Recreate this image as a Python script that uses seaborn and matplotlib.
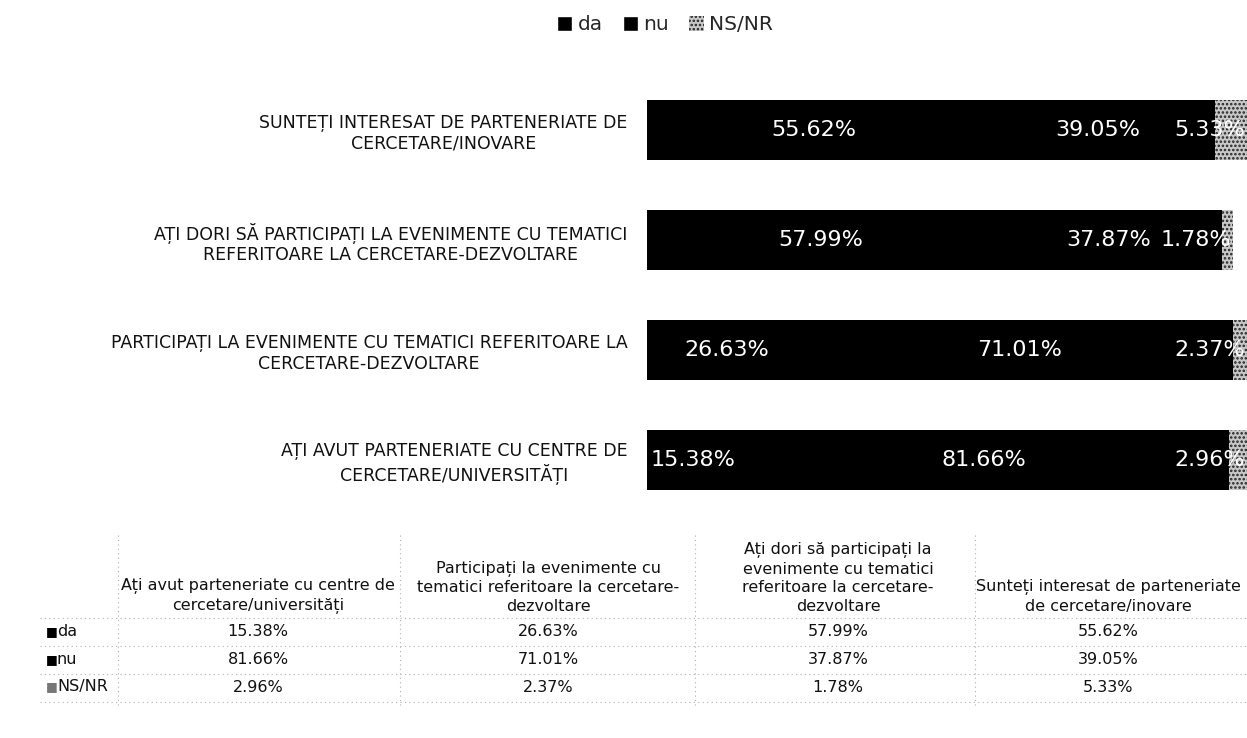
import numpy as np
import pandas as pd
import matplotlib
matplotlib.use("Agg")
import matplotlib.pyplot as plt
import seaborn as sns
from matplotlib.patches import Patch
from matplotlib.lines import Line2D

# data
questions = [
    "Ați avut parteneriate cu centre de\ncercetare/universități",
    "Participați la evenimente cu\ntematici referitoare la cercetare-\ndezvoltare",
    "Ați dori să participați la\nevenimente cu tematici\nreferitoare la cercetare-\ndezvoltare",
    "Sunteți interesat de parteneriate\nde cercetare/inovare",
]
bar_labels = [
    "AȚI AVUT PARTENERIATE CU CENTRE DE\nCERCETARE/UNIVERSITĂȚI",
    "PARTICIPAȚI LA EVENIMENTE CU TEMATICI REFERITOARE LA\nCERCETARE-DEZVOLTARE",
    "AȚI DORI SĂ PARTICIPAȚI LA EVENIMENTE CU TEMATICI\nREFERITOARE LA CERCETARE-DEZVOLTARE",
    "SUNTEȚI INTERESAT DE PARTENERIATE DE\nCERCETARE/INOVARE",
]
series = ["da", "nu", "NS/NR"]
da = [15.38, 26.63, 57.99, 55.62]
nu = [81.66, 71.01, 37.87, 39.05]
nsnr = [2.96, 2.37, 1.78, 5.33]

sns.set_style("white")
plt.rcParams["font.family"] = ["DejaVu Sans"]
plt.rcParams["hatch.linewidth"] = 1.2

df = pd.DataFrame({"label": bar_labels, "da": da, "nu": nu, "NS/NR": nsnr})
df["cum_da"] = df["da"]
df["cum_nu"] = df["da"] + df["nu"]
df["cum_ns"] = df["cum_nu"] + df["NS/NR"]
order = bar_labels[::-1]  # first category at the bottom, like Excel

W, H = 1247, 738
fig = plt.figure(figsize=(W / 100, H / 100), dpi=100)


def px(x, y):
    return x / W, 1 - y / H


ax = fig.add_axes([647 / W, 1 - 515 / H, 600 / W, 440 / H])

# stacked bars drawn as cumulative layers
sns.barplot(data=df, x="cum_ns", y="label", order=order, orient="h",
            color="#c8c8c8", hatch="....", edgecolor="#222222", linewidth=0,
            width=0.545, ax=ax)
sns.barplot(data=df, x="cum_nu", y="label", order=order, orient="h",
            color="black", linewidth=0, width=0.545, ax=ax)
sns.barplot(data=df, x="cum_da", y="label", order=order, orient="h",
            color="black", linewidth=0, width=0.545, ax=ax)

ax.set_xlim(0, 100)
ax.set_xlabel("")
ax.set_ylabel("")
ax.set_xticks([])
for s in ax.spines.values():
    s.set_visible(False)
ax.tick_params(axis="y", length=0, pad=14)
for t in ax.get_yticklabels():
    t.set_fontsize(12.5)
    t.set_multialignment("center")
    t.set_color("#111111")

# segment labels (the thin NS/NR one is kept inside the right edge)
for i, lab in enumerate(order):
    row = df[df["label"] == lab].iloc[0]
    lefts = [0, row["cum_da"], row["cum_nu"]]
    for left, key in zip(lefts, series):
        v = row[key]
        if key == "NS/NR":
            ax.text(left + v - 0.3, i, f"{v:.2f}%", ha="right", va="center",
                    color="white", fontsize=16)
        else:
            ax.text(left + v / 2, i, f"{v:.2f}%", ha="center", va="center",
                    color="white", fontsize=16)

# legend
handles = [Patch(facecolor="black"), Patch(facecolor="black"),
           Patch(facecolor="#c8c8c8", hatch="....", edgecolor="#222222", linewidth=0)]
fig.legend(handles, series, loc="center", bbox_to_anchor=px(665, 25), ncol=3,
           frameon=False, fontsize=14.5, handlelength=0.75, handleheight=0.75,
           handletextpad=0.25, columnspacing=1.0)

# data table
col_x = [258, 548, 838, 1108]
row_y = [632, 660, 687]
for cx, q in zip(col_x, questions):
    fig.text(*px(cx, 614), q, ha="center", va="bottom", fontsize=11.5,
             multialignment="center", color="#111111", linespacing=1.3)

table_vals = [da, nu, nsnr]
key_colors = ["black", "black", "#777777"]
for ry, name, vals, kc in zip(row_y, series, table_vals, key_colors):
    fig.text(*px(46, ry), "■", ha="left", va="center", fontsize=9, color=kc)
    fig.text(*px(57, ry), name, ha="left", va="center", fontsize=11.5, color="#111111")
    for cx, v in zip(col_x, vals):
        fig.text(*px(cx, ry), f"{v:.2f}%", ha="center", va="center",
                 fontsize=11.5, color="#111111")

# faint table grid
grid_kw = dict(color="#b0b0b0", linestyle=(0, (1, 3)), linewidth=0.8,
               transform=fig.transFigure)
for gx in [118, 400, 695, 975]:
    x0, y0 = px(gx, 535)
    x1, y1 = px(gx, 705)
    fig.add_artist(Line2D([x0, x1], [y0, y1], **grid_kw))
for gy in [618, 646, 674, 702]:
    x0, y0 = px(40, gy)
    x1, y1 = px(1247, gy)
    fig.add_artist(Line2D([x0, x1], [y0, y1], **grid_kw))

fig.savefig("out.png", dpi=100)
